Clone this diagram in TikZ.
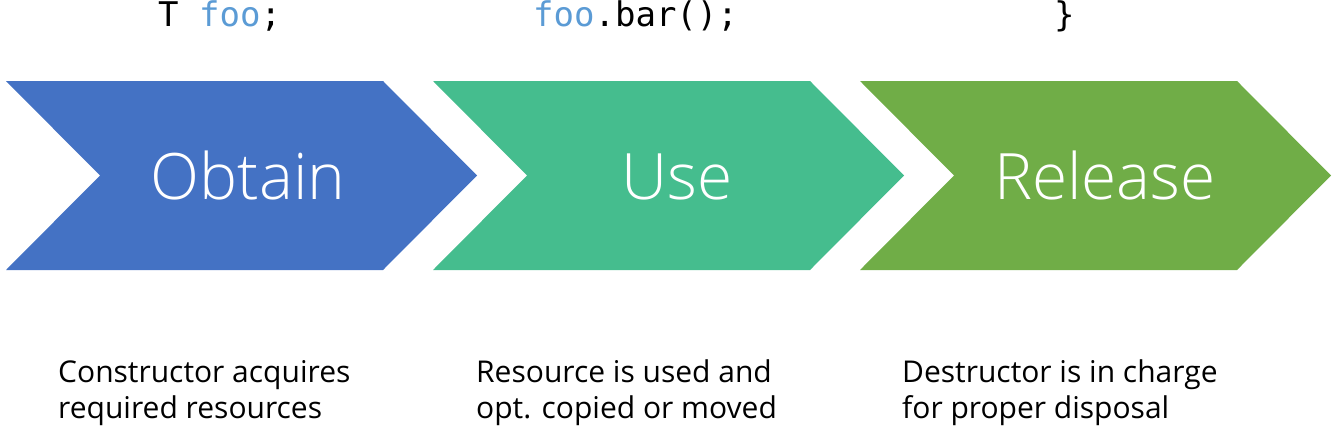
\documentclass[tikz,border=0pt]{standalone}
\usepackage{fontspec}
\setmainfont{Open Sans}
\newfontfamily\phasefont{Open Sans Light}
\newfontfamily\codefont{DejaVu Sans Mono}
\usetikzlibrary{positioning}
\definecolor{RAIIBlue}{HTML}{4472C4}
\definecolor{RAIITeal}{HTML}{45BD8E}
\definecolor{RAIIGreen}{HTML}{70AD47}
\definecolor{RAIIFoo}{HTML}{5B9BD5}
\definecolor{RAIIInk}{HTML}{000000}

\begin{document}
\begin{tikzpicture}[
  x=1pt, y=-1pt,
  phase/.style={font=\fontsize{64}{70}\selectfont\phasefont, text=white,
                anchor=base, inner sep=0pt},
  code/.style={font=\fontsize{34}{36}\selectfont\codefont, text=RAIIInk,
               anchor=base west, inner sep=0pt},
  note/.style={font=\fontsize{30}{36}\selectfont, text=RAIIInk, align=left,
               anchor=base west, inner sep=0pt},
]
\useasboundingbox (0,0) rectangle (1337,431);
% the three chevrons
\fill[RAIIBlue]  (6,81)   -- (383,81)  -- (477,175.5)  -- (383,270)  -- (6,270)   -- (100,175.5) -- cycle;
\fill[RAIITeal]  (433,81) -- (810,81)  -- (904,175.5)  -- (810,270)  -- (433,270) -- (527,175.5) -- cycle;
\fill[RAIIGreen] (860,81) -- (1237,81) -- (1331,175.5) -- (1237,270) -- (860,270) -- (954,175.5) -- cycle;
\node[phase] (obtain)  at (248,199)  {Obtain};
\node[phase] (use)     at (677,199)  {Use};
\node[phase] (release) at (1105,199) {Release};
% code lines
\node[code] (decl) at (158,27)  {T \textcolor{RAIIFoo}{foo};};
\node[code] (call) at (533,27)  {\textcolor{RAIIFoo}{foo}.bar();};
\node[code] (end)  at (1054,27) {\}};
% notes (base = last line)
\node[note] (acquire) at (58,418)  {Constructor acquires\\required resources};
\node[note] (useit)   at (476,418) {Resource is used and\\opt. copied or moved};
\node[note] (dispose) at (902,418) {Destructor is in charge\\for proper disposal};
\end{tikzpicture}
\end{document}
